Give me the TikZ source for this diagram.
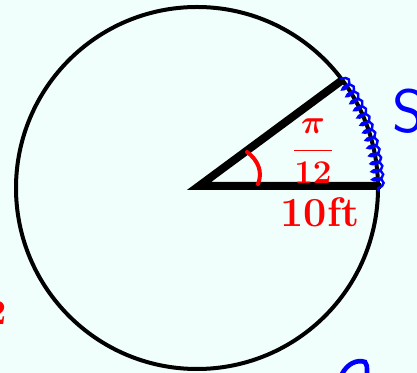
\documentclass[tikz,border=0pt]{standalone}
\usetikzlibrary{decorations.pathmorphing,calc}
\definecolor{bgc}{RGB}{241,255,252}
\definecolor{penred}{RGB}{255,0,0}
\definecolor{penblue}{RGB}{0,0,255}
\begin{document}
\begin{tikzpicture}[x=0.75pt,y=-0.75pt,
  radiusline/.style={line width=6pt,line cap=round},
  rim/.style={line width=3pt},
  redink/.style={text=penred,inner sep=0pt},
  spring/.style={draw=penblue,line width=1.8pt,decorate,
    decoration={coil,amplitude=4.2pt,segment length=6.2pt,pre length=1pt,post length=1pt}}]
\fill[bgc] (0,0) rectangle (417,373);
\useasboundingbox (0,0) rectangle (417,373);
\coordinate (c) at (197,188);
\coordinate (o) at (199,186);
\coordinate (a) at (378,186);
\coordinate (b) at (341,81);
% circle
\draw[rim] (c) circle[radius=135.75pt];
% radii
\draw[radiusline] (a) -- (o) -- (b);
% spring along the arc
\coordinate (s0) at ($(c)+(37.5:135.75pt)$);
\draw[spring] (s0) arc[start angle=37.5,end angle=-1,radius=135.75pt];
% angle mark
\coordinate (m1) at (247,152);
\coordinate (m2) at (258,184);
\draw[penred,line width=3pt,line cap=round] (m1) .. controls (258,160) and (263,172) .. (m2);
% labels
\node[redink,font=\fontsize{24}{24}\selectfont\boldmath] (frac) at (313,151) {$\displaystyle\frac{\pi}{12}$};
\node[redink,font=\fontsize{31}{31}\selectfont\bfseries] (len) at (320,212) {10ft};
\node[text=penblue,inner sep=0pt,font=\fontsize{46}{46}\selectfont\sffamily] (s) at (409,111) {S};
\node[redink,font=\fontsize{27}{27}\selectfont\bfseries] (two) at (-3,313) {2};
% partial blue mark at the bottom
\draw[penblue,line width=3.5pt,line cap=round] (342,374) .. controls (347,364) and (357,359) .. (365,362) .. controls (367,365) .. (367,374);
\end{tikzpicture}
\end{document}
